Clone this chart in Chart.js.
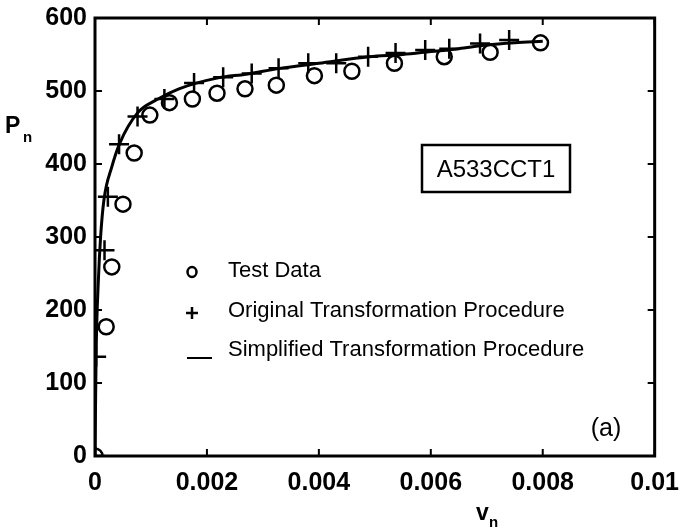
<!DOCTYPE html>
<html>
<head>
<meta charset="utf-8">
<script src="https://cdn.jsdelivr.net/npm/chart.js@4.4.1/dist/chart.umd.min.js"></script>
<style>
  html, body { margin: 0; padding: 0; background: #fff; }
  #wrap { width: 683px; height: 530px; }
</style>
</head>
<body>
<div id="wrap"><canvas id="pvChart" width="683" height="530"></canvas></div>
<script>
// --- data ---
const testX = [0, 0.0002, 0.0003, 0.0005, 0.0007, 0.00098, 0.00133, 0.00174, 0.00218, 0.00268, 0.00324, 0.00392, 0.00459, 0.00535, 0.00624, 0.00706, 0.00796];
const testY = [0, 177, 259, 345, 415, 467, 484, 489, 497, 503, 508, 521, 527, 538, 547, 553, 566];

const origX = [0, 0.00002, 0.00017, 0.00023, 0.00043, 0.00076, 0.00124, 0.00177, 0.00229, 0.0028, 0.00328, 0.00381, 0.00431, 0.00488, 0.00537, 0.0059, 0.00633, 0.00688, 0.0074];
const origY = [0, 136, 282, 355, 427, 465, 489, 511, 519, 524, 531, 538, 538, 547, 552, 556, 558, 565, 570];

const simpX = [0, 0.00002, 0.00006, 0.0001, 0.00016, 0.0003, 0.00044, 0.00076, 0.0011, 0.0015, 0.0022, 0.0027, 0.0033, 0.004, 0.0049, 0.0055, 0.006, 0.0065, 0.007, 0.0075, 0.008];
const simpY = [0, 140, 240, 300, 351, 396, 428, 470, 488, 503, 518, 523, 531, 538, 547, 550, 554, 558, 563, 566, 568];

const xTicks = [0, 0.002, 0.004, 0.006, 0.008, 0.01];
const xTickLabels = ['0', '0.002', '0.004', '0.006', '0.008', '0.01'];
const yTicks = [0, 100, 200, 300, 400, 500, 600];

const seriesNames = ['Test Data', 'Original Transformation Procedure', 'Simplified Transformation Procedure'];

const FONT = '"Liberation Sans", Arial, Helvetica, sans-serif';

function toPoints(xs, ys) {
    return xs.map((x, i) => ({ x: x, y: ys[i] }));
}

// frame, inward ticks, legend and labels
const decorations = {
    id: 'decorations',
    afterDraw(chart) {
        const ctx = chart.ctx;
        const a = chart.chartArea;
        const xs = chart.scales.x;
        const ys = chart.scales.y;
        ctx.save();
        ctx.strokeStyle = '#000';
        ctx.fillStyle = '#000';

        // frame
        ctx.lineWidth = 3;
        ctx.strokeRect(a.left, a.top, a.right - a.left, a.bottom - a.top);

        // inward ticks on all four sides
        ctx.lineWidth = 2;
        const tl = 7;
        ctx.beginPath();
        xTicks.forEach(v => {
            const px = xs.getPixelForValue(v);
            ctx.moveTo(px, a.bottom); ctx.lineTo(px, a.bottom - tl);
            ctx.moveTo(px, a.top); ctx.lineTo(px, a.top + tl);
        });
        yTicks.forEach(v => {
            const py = ys.getPixelForValue(v);
            ctx.moveTo(a.left, py); ctx.lineTo(a.left + tl, py);
            ctx.moveTo(a.right, py); ctx.lineTo(a.right - tl, py);
        });
        ctx.stroke();

        // axis titles with subscripts
        ctx.textBaseline = 'alphabetic';
        ctx.textAlign = 'left';
        ctx.font = 'bold 23px ' + FONT;
        ctx.fillText('P', 5, 133);
        ctx.fillText('v', 476, 520);
        ctx.font = 'bold 15px ' + FONT;
        ctx.fillText('n', 23, 142);
        ctx.fillText('n', 489, 527);

        // legend
        ctx.lineWidth = 2.5;
        ctx.beginPath();
        ctx.ellipse(192, 272, 4.5, 5, 0, 0, Math.PI * 2);
        ctx.stroke();
        ctx.beginPath();
        ctx.moveTo(186, 313); ctx.lineTo(198, 313);
        ctx.moveTo(192, 307); ctx.lineTo(192, 319);
        ctx.stroke();
        ctx.lineWidth = 2;
        ctx.beginPath();
        ctx.moveTo(187, 358); ctx.lineTo(212, 358);
        ctx.stroke();

        ctx.font = '22px ' + FONT;
        ctx.textBaseline = 'middle';
        ctx.fillText(seriesNames[0], 228, 271);
        ctx.fillText(seriesNames[1], 228, 311);
        ctx.fillText(seriesNames[2], 228, 350);

        // specimen box
        ctx.lineWidth = 2.5;
        ctx.strokeRect(422, 145, 148, 47);
        ctx.font = '24px ' + FONT;
        ctx.textAlign = 'center';
        ctx.fillText('A533CCT1', 496, 170);

        // panel tag
        ctx.font = '25px ' + FONT;
        ctx.fillText('(a)', 606, 429);
        ctx.restore();
    }
};

const ctx = document.getElementById('pvChart');
new Chart(ctx, {
    type: 'scatter',
    data: {
        datasets: [
            {
                label: seriesNames[2],
                data: toPoints(simpX, simpY),
                showLine: true,
                borderColor: '#000',
                borderWidth: 3,
                pointRadius: 0,
                cubicInterpolationMode: 'monotone',
                order: 3
            },
            {
                label: seriesNames[1],
                data: toPoints(origX, origY),
                pointStyle: 'cross',
                pointRadius: 10,
                borderColor: '#000',
                borderWidth: 2.5,
                order: 2
            },
            {
                label: seriesNames[0],
                data: toPoints(testX, testY),
                pointStyle: 'circle',
                pointRadius: 7.5,
                borderColor: '#000',
                backgroundColor: 'rgba(0,0,0,0)',
                borderWidth: 2.5,
                order: 1
            }
        ]
    },
    options: {
        responsive: false,
        animation: false,
        devicePixelRatio: 1,
        layout: { padding: { top: 18, right: 24, left: 0, bottom: 0 } },
        plugins: {
            legend: { display: false },
            tooltip: { enabled: false }
        },
        scales: {
            x: {
                type: 'linear',
                min: 0,
                max: 0.01,
                afterBuildTicks: (scale) => { scale.ticks = xTicks.map(v => ({ value: v })); },
                afterFit: (scale) => { scale.height = 74; },
                ticks: {
                    color: '#000',
                    padding: 4,
                    maxRotation: 0,
                    font: { family: FONT, size: 25, weight: 'bold' },
                    callback: (v) => {
                        const i = xTicks.findIndex(t => Math.abs(t - v) < 1e-9);
                        return i >= 0 ? xTickLabels[i] : '';
                    }
                },
                grid: { display: false },
                border: { display: false }
            },
            y: {
                type: 'linear',
                min: 0,
                max: 600,
                afterBuildTicks: (scale) => { scale.ticks = yTicks.map(v => ({ value: v })); },
                afterFit: (scale) => { scale.width = 95; },
                ticks: {
                    color: '#000',
                    padding: 0,
                    font: { family: FONT, size: 25, weight: 'bold' }
                },
                grid: { display: false },
                border: { display: false }
            }
        }
    },
    plugins: [decorations]
});
</script>
</body>
</html>
